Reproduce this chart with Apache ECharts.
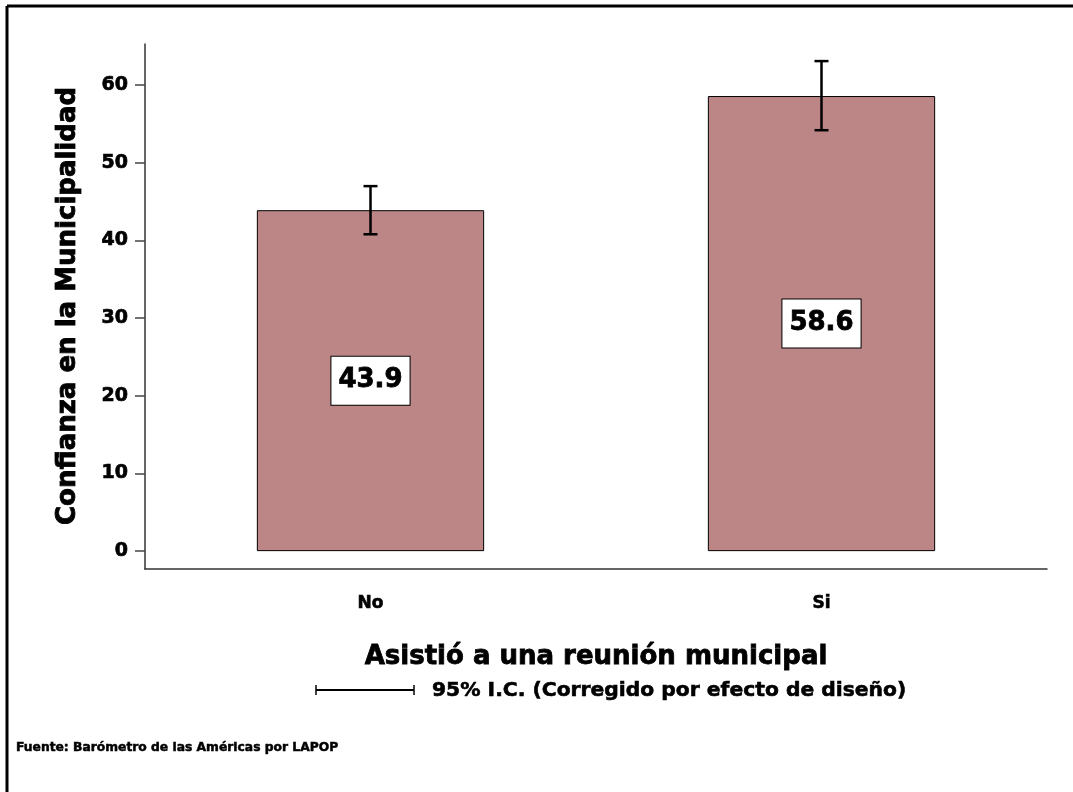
<!DOCTYPE html>
<html>
<head>
<meta charset="utf-8">
<script src="https://cdn.jsdelivr.net/npm/echarts@6/dist/echarts.min.js"></script>
<style>
html,body{margin:0;padding:0;background:#fff;}
#c{width:1073px;height:792px;}
</style>
</head>
<body>
<div id="c"></div>
<script>
const categories = ['No', 'Si'];
const means = [43.9, 58.6];
const ciLow = [40.8, 54.2];
const ciHigh = [47.0, 63.1];
const yTicks = [0, 10, 20, 30, 40, 50, 60];
const xTitle = 'Asistió a una reunión municipal';
const yTitle = 'Confianza en la Municipalidad';
const legendText = '95% I.C. (Corregido por efecto de diseño)';
const sourceText = 'Fuente: Barómetro de las Américas por LAPOP';

const FONT = '"DejaVu Sans", "Liberation Sans", Arial, sans-serif';
const chart = echarts.init(document.getElementById('c'), null, {renderer: 'canvas'});

chart.setOption({
  backgroundColor: '#ffffff',
  animation: false,
  grid: {left: 145, right: 26, top: 44, bottom: 223},
  xAxis: {
    type: 'category',
    data: categories,
    axisLine: {onZero: false, lineStyle: {color: '#333', width: 1.5}},
    axisTick: {alignWithLabel: true, length: 10, lineStyle: {color: '#333', width: 1}},
    axisLabel: {fontFamily: FONT, fontWeight: 'bold', fontSize: 17, color: '#000', margin: 26,
      textBorderColor: '#000', textBorderWidth: 0.6}
  },
  yAxis: {
    type: 'value',
    min: -2.3,
    max: 65.3,
    splitLine: {show: false},
    axisLine: {show: true, lineStyle: {color: '#333', width: 1.5}},
    axisTick: {show: true, length: 10, customValues: yTicks, lineStyle: {color: '#444', width: 1.5}},
    axisLabel: {fontFamily: FONT, fontWeight: 'bold', fontSize: 19, color: '#000', margin: 17, customValues: yTicks,
      textBorderColor: '#000', textBorderWidth: 0.7}
  },
  series: [
    {
      type: 'bar',
      data: means,
      barWidth: '50.4%',
      itemStyle: {color: '#bc8586', borderColor: '#000', borderWidth: 1},
      label: {
        show: true,
        position: 'inside',
        formatter: p => p.value.toFixed(1),
        fontFamily: FONT, fontWeight: 'bold', fontSize: 26, color: '#000',
        textBorderColor: '#000', textBorderWidth: 0.8,
        lineHeight: 26,
        backgroundColor: '#fff', borderColor: '#000', borderWidth: 1,
        padding: [12, 7, 10, 7]
      },
      z: 2
    },
    {
      type: 'custom',
      data: categories.map((c, i) => [i, ciLow[i], ciHigh[i]]),
      renderItem: function (params, api) {
        const x = api.value(0);
        const lo = api.coord([x, api.value(1)]);
        const hi = api.coord([x, api.value(2)]);
        const hw = 7;
        const st = {stroke: '#000', lineWidth: 2.5};
        return {
          type: 'group',
          children: [
            {type: 'line', shape: {x1: lo[0], y1: lo[1], x2: hi[0], y2: hi[1]}, style: st},
            {type: 'line', shape: {x1: lo[0] - hw, y1: lo[1], x2: lo[0] + hw, y2: lo[1]}, style: st},
            {type: 'line', shape: {x1: hi[0] - hw, y1: hi[1], x2: hi[0] + hw, y2: hi[1]}, style: st}
          ]
        };
      },
      z: 3
    }
  ],
  graphic: [
    {type: 'line', shape: {x1: 7, y1: 6, x2: 1073, y2: 6}, style: {stroke: '#000', lineWidth: 3}},
    {type: 'line', shape: {x1: 7, y1: 6, x2: 7, y2: 792}, style: {stroke: '#000', lineWidth: 3}},
    {type: 'text', x: 68, y: 306, rotation: Math.PI / 2, style: {text: yTitle, font: 'bold 26px ' + FONT, fill: '#000', stroke: '#000', lineWidth: 0.8, verticalAlign: 'middle', textAlign: 'center'}},
    {type: 'text', x: 596, y: 657, style: {text: xTitle, font: 'bold 26px ' + FONT, fill: '#000', stroke: '#000', lineWidth: 0.8, verticalAlign: 'middle', textAlign: 'center'}},
    {type: 'line', shape: {x1: 316, y1: 690, x2: 414, y2: 690}, style: {stroke: '#000', lineWidth: 2}},
    {type: 'line', shape: {x1: 316, y1: 685, x2: 316, y2: 695}, style: {stroke: '#000', lineWidth: 1.5}},
    {type: 'line', shape: {x1: 414, y1: 685, x2: 414, y2: 695}, style: {stroke: '#000', lineWidth: 1.5}},
    {type: 'text', x: 432, y: 691, style: {text: legendText, font: 'bold 20.3px ' + FONT, fill: '#000', stroke: '#000', lineWidth: 0.6, verticalAlign: 'middle', textAlign: 'left'}},
    {type: 'text', x: 16, y: 748, style: {text: sourceText, font: 'bold 12.3px ' + FONT, fill: '#000', stroke: '#000', lineWidth: 0.5, verticalAlign: 'middle', textAlign: 'left'}}
  ]
});
</script>
</body>
</html>
